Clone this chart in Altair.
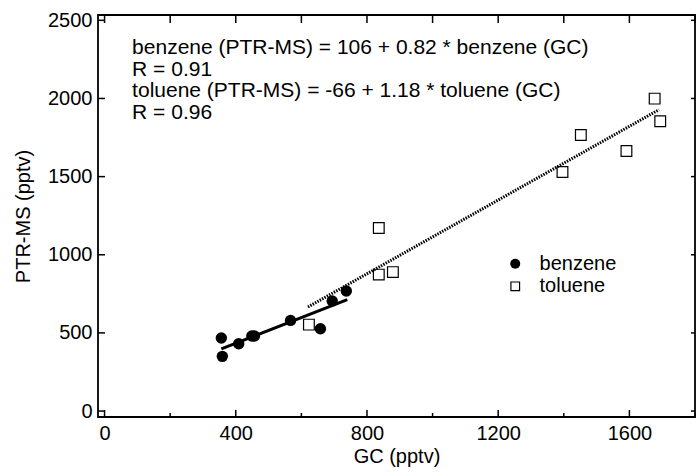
import altair as alt
import pandas as pd

# --- data ---
benzene_gc = [356, 359, 409, 449, 457, 567, 658, 694, 737]
benzene_ptr = [467, 350, 431, 480, 480, 580, 527, 704, 768]
toluene_gc = [623, 836, 836, 879, 1396, 1452, 1591, 1677, 1694]
toluene_ptr = [553, 1171, 873, 889, 1529, 1766, 1664, 1999, 1854]

benzene_fit_gc = [356, 740]
benzene_fit_ptr = [398, 713]
toluene_fit_gc = [620, 1690]
toluene_fit_ptr = [666, 1928]

annot_lines = [
    "benzene (PTR-MS) = 106 + 0.82 * benzene (GC)",
    "R = 0.91",
    "toluene (PTR-MS) = -66 + 1.18 * toluene (GC)",
    "R = 0.96",
]
annot_y = [2282, 2145, 2007, 1870]
annot_x = [84, 84, 84, 84]

legend_labels = ["benzene", "toluene"]
legend_y = [943, 798]
legend_marker_x = [1252]
legend_text_x = [1326, 1326]

x_labels = [0, 400, 800, 1200, 1600]
x_minor = [200, 600, 1000, 1400, 1800]
top_ticks = [0, 200, 400, 600, 800, 1000, 1200, 1400, 1600, 1800]
y_labels = [0, 500, 1000, 1500, 2000, 2500]

W, H = 597, 402
FONT = "Liberation Sans"

xs = alt.Scale(domain=[-20, 1800], nice=False, zero=False)
ys = alt.Scale(domain=[-38, 2534], nice=False, zero=False)

xaxis = alt.Axis(values=x_labels, ticks=False, domain=False, grid=False, format="d",
                 labelFontSize=20, labelFont=FONT, labelPadding=6,
                 title="GC (pptv)", titleFontSize=20, titleFont=FONT,
                 titleFontWeight="normal", titlePadding=3, labelColor="black",
                 titleColor="black")
yaxis = alt.Axis(values=y_labels, ticks=False, domain=False, grid=False, format="d",
                 labelFontSize=20, labelFont=FONT, labelPadding=6,
                 title="PTR-MS (pptv)", titleFontSize=20, titleFont=FONT,
                 titleFontWeight="normal", titlePadding=14, labelColor="black",
                 titleColor="black")

X = alt.X("gc:Q", scale=xs, axis=xaxis)
Y = alt.Y("ptr:Q", scale=ys, axis=yaxis)

bdf = pd.DataFrame({"gc": benzene_gc, "ptr": benzene_ptr})
tdf = pd.DataFrame({"gc": toluene_gc, "ptr": toluene_ptr})
bfit = pd.DataFrame({"gc": benzene_fit_gc, "ptr": benzene_fit_ptr})
tfit = pd.DataFrame({"gc": toluene_fit_gc, "ptr": toluene_fit_ptr})
adf = pd.DataFrame({"gc": annot_x, "ptr": annot_y, "t": annot_lines})

base_points = alt.Chart(bdf).mark_point(
    shape="circle", filled=True, color="black", size=130, opacity=1
).encode(x=X, y=Y)

tol_points = alt.Chart(tdf).mark_point(
    shape="square", filled=False, color="black", size=115, strokeWidth=1.2, opacity=1
).encode(x=X, y=Y)

bline = alt.Chart(bfit).mark_line(color="black", strokeWidth=3).encode(x=X, y=Y)
tline = alt.Chart(tfit).mark_line(color="black", strokeWidth=3, strokeDash=[1.5, 1.2]).encode(x=X, y=Y)

annot = alt.Chart(adf).mark_text(
    align="left", baseline="alphabetic", font=FONT, fontSize=21, color="black"
).encode(x=X, y=Y, text="t:N")

leg_b = alt.Chart(pd.DataFrame({"gc": legend_marker_x, "ptr": [legend_y[0]]})).mark_point(
    shape="circle", filled=True, color="black", size=100, opacity=1
).encode(x=X, y=Y)
leg_t = alt.Chart(pd.DataFrame({"gc": legend_marker_x, "ptr": [legend_y[1]]})).mark_point(
    shape="square", filled=False, color="black", size=75, strokeWidth=1.2, opacity=1
).encode(x=X, y=Y)
leg_text = alt.Chart(pd.DataFrame({"gc": legend_text_x, "ptr": legend_y, "t": legend_labels})).mark_text(
    align="left", baseline="middle", font=FONT, fontSize=20, color="black"
).encode(x=X, y=Y, text="t:N")


def hticks(vals, y1, y2):
    return alt.Chart(pd.DataFrame({"gc": vals})).mark_rule(color="black", strokeWidth=1.5).encode(
        x=X, y=alt.value(y1), y2=alt.value(y2))


def vticks(vals, x1, x2):
    return alt.Chart(pd.DataFrame({"ptr": vals})).mark_rule(color="black", strokeWidth=1.5).encode(
        y=Y, x=alt.value(x1), x2=alt.value(x2))


ticks = [
    hticks(x_labels, H, H - 7),
    hticks(x_minor, H, H - 4),
    hticks(top_ticks, 0, 8),
    vticks(y_labels, 0, 7),
    vticks(y_labels, W, W - 4),
]

chart = alt.layer(
    base_points, bline, tline, tol_points, annot, leg_b, leg_t, leg_text, *ticks
).properties(
    width=W, height=H,
    background="white",
    autosize=alt.AutoSizeParams(type="none"),
    padding={"left": 98, "top": 15, "right": 1, "bottom": 59},
).configure_view(
    stroke="black", strokeWidth=1.8
)

chart.save("out.html", embed_options={"renderer": "svg", "actions": False})
